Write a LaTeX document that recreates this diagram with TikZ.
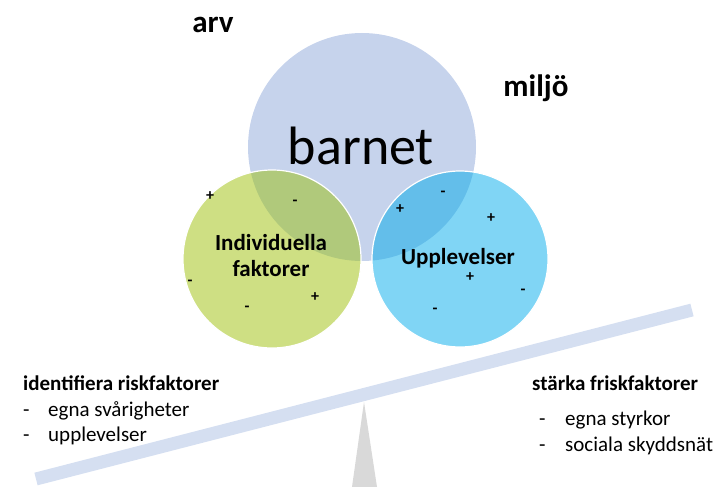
\documentclass[tikz,border=0pt]{standalone}
\usepackage{fontspec}
\setmainfont{Carlito}
\definecolor{bigc}{HTML}{C6D3EC}
\definecolor{greenc}{HTML}{CEDF83}
\definecolor{greenov}{HTML}{B0C97B}
\definecolor{bluec}{HTML}{80D5F5}
\definecolor{blueov}{HTML}{63BEEA}
\definecolor{beamc}{HTML}{D5DFF1}
\definecolor{fulc}{HTML}{D9D9D9}
\tikzset{
  sign/.style={font=\bfseries\fontsize{16}{16}\selectfont, inner sep=0pt},
  ctext/.style={font=\bfseries\fontsize{23}{26}\selectfont, align=center, inner sep=0pt},
  listtitle/.style={font=\bfseries\fontsize{21}{24}\selectfont, anchor=base west, inner sep=0pt},
  listitem/.style={font=\fontsize{21}{24}\selectfont, anchor=base west, inner sep=0pt},
  corner/.style={font=\bfseries\fontsize{31}{34}\selectfont, anchor=base, inner sep=0pt},
}
\begin{document}
\begin{tikzpicture}[x=1pt,y=-1pt]
\useasboundingbox (0,0) rectangle (718,487);
% circles
\coordinate (cb) at (362,147);
\coordinate (cg) at (272,259);
\coordinate (cu) at (460,259);
\fill[bigc] (cb) circle (114);
\fill[greenc] (cg) circle (89);
\fill[bluec] (cu) circle (88);
\begin{scope}
  \clip (cb) circle (114);
  \fill[greenov] (cg) circle (89);
  \fill[blueov] (cu) circle (88);
\end{scope}
\draw[white, line width=1.2pt] (cg) circle (89);
\draw[white, line width=1.2pt] (cu) circle (88);
% texts
\node[corner] (arv) at (213,33) {arv};
\node[corner] (miljo) at (536,96) {miljö};
\node[font=\fontsize{54}{54}\selectfont, anchor=base, inner sep=0pt] (barnet) at (361,164) {barnet};
\node[ctext] (indiv) at (271,256) {Individuella\\faktorer};
\node[ctext] (uppl) at (458,258) {Upplevelser};
% signs green
\node[sign] (g1) at (210,196) {+};
\node[sign] (g2) at (295,203) {-};
\node[sign] (g3) at (190,283) {-};
\node[sign] (g4) at (247,309) {-};
\node[sign] (g5) at (315,297) {+};
% signs blue
\node[sign] (b1) at (443,194) {-};
\node[sign] (b2) at (400,209) {+};
\node[sign] (b3) at (491,218) {+};
\node[sign] (b4) at (470,277) {+};
\node[sign] (b5) at (523,292) {-};
\node[sign] (b6) at (435,311) {-};
% fulcrum and beam
\coordinate (fa) at (364,402);
\coordinate (fl) at (352,487);
\coordinate (fr) at (377,487);
\fill[fulc] (fa) -- (fr) -- (fl) -- cycle;
\coordinate (bl) at (36,479);
\coordinate (br) at (692,310);
\draw[beamc, line width=13pt] (bl) -- (br);
% left list
\node[listtitle] (lt) at (23,390) {identifiera riskfaktorer};
\node[listitem] (l1d) at (23,416) {-};
\node[listitem] (l1) at (48,416) {egna svårigheter};
\node[listitem] (l2d) at (23,441) {-};
\node[listitem] (l2) at (48,441) {upplevelser};
% right list
\node[listtitle] (rt) at (532,390) {stärka friskfaktorer};
\node[listitem] (r1d) at (539,425) {-};
\node[listitem] (r1) at (565,425) {egna styrkor};
\node[listitem] (r2d) at (539,451) {-};
\node[listitem] (r2) at (565,451) {sociala skyddsnät};
\end{tikzpicture}
\end{document}
